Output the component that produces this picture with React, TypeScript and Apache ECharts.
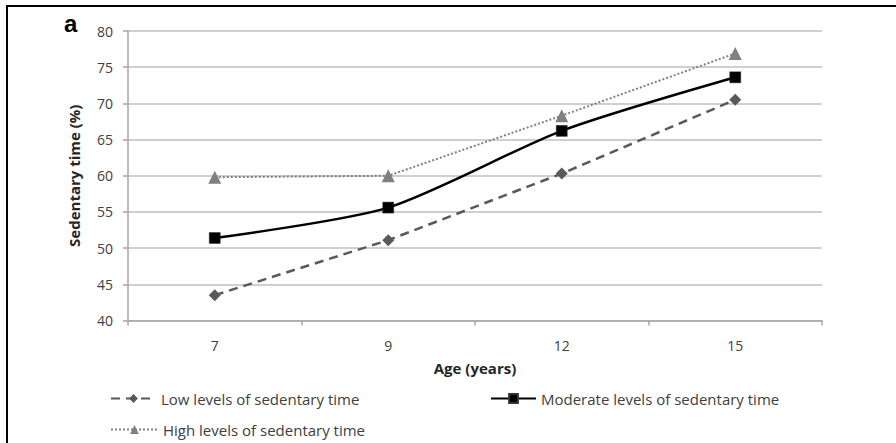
import React, { useEffect, useRef } from "react";
import * as echarts from "echarts";

const ages = ["7", "9", "12", "15"];
const lowLevels = [43.5, 51.1, 60.3, 70.5];
const moderateLevels = [51.4, 55.6, 66.2, 73.6];
const highLevels = [59.8, 60.0, 68.3, 76.9];
const seriesNames = [
  "Low levels of sedentary time",
  "Moderate levels of sedentary time",
  "High levels of sedentary time",
];

const FONT = "'Open Sans', Lato, sans-serif";
const TXT = "#404040";

export default function App() {
  const ref = useRef<HTMLDivElement>(null);
  useEffect(() => {
    if (!ref.current) return;
    const chart = echarts.init(ref.current, null, { renderer: "svg" });
    const legendText = { fontFamily: FONT, fontSize: 15, color: TXT };
    chart.setOption({
      animation: false,
      backgroundColor: "#ffffff",
      textStyle: { fontFamily: FONT },
      grid: { left: 128, top: 31, width: 694, height: 289.5 },
      xAxis: {
        type: "category",
        data: ages,
        boundaryGap: true,
        name: "Age (years)",
        nameLocation: "middle",
        nameGap: 40,
        nameTextStyle: { fontFamily: FONT, fontSize: 15, fontWeight: "bold", color: "#262626" },
        axisLine: { lineStyle: { color: "#a6a6a6", width: 1.5 } },
        axisTick: { show: true, length: 5, lineStyle: { color: "#a6a6a6", width: 1.5 } },
        axisLabel: { margin: 18, fontSize: 14, color: TXT, fontFamily: FONT },
        splitLine: { show: false },
      },
      yAxis: {
        type: "value",
        min: 40,
        max: 80,
        interval: 5,
        name: "Sedentary time (%)",
        nameLocation: "middle",
        nameGap: 47,
        nameTextStyle: { fontFamily: FONT, fontSize: 15, fontWeight: "bold", color: "#262626" },
        axisLine: { show: true, lineStyle: { color: "#a6a6a6", width: 1.5 } },
        axisTick: { show: true, length: 5, lineStyle: { color: "#a6a6a6", width: 1.5 } },
        axisLabel: { margin: 15, fontSize: 14, color: TXT, fontFamily: FONT },
        splitLine: { show: true, lineStyle: { color: "#bfbfbf", width: 1.5 } },
      },
      legend: [
        {
          data: [seriesNames[0]],
          left: 110,
          top: 391,
          padding: 0,
          itemWidth: 45,
          itemHeight: 11,
          textStyle: legendText,
        },
        {
          data: [seriesNames[1]],
          left: 490,
          top: 391,
          padding: 0,
          itemWidth: 45,
          itemHeight: 11,
          textStyle: legendText,
        },
        {
          data: [seriesNames[2]],
          left: 110,
          top: 422,
          padding: 0,
          itemWidth: 47,
          itemHeight: 11,
          textStyle: legendText,
        },
      ],
      series: [
        {
          name: seriesNames[0],
          type: "line",
          data: lowLevels,
          symbol: "diamond",
          symbolSize: 12,
          itemStyle: { color: "#595959" },
          lineStyle: { color: "#595959", width: 2.5, type: [9, 6] },
          z: 2,
        },
        {
          name: seriesNames[1],
          type: "line",
          data: moderateLevels,
          symbol: "rect",
          symbolSize: 11,
          smooth: 0.25,
          itemStyle: { color: "#000000", borderColor: "#333", borderWidth: 0.5 },
          lineStyle: { color: "#000000", width: 2.5 },
          z: 3,
        },
        {
          name: seriesNames[2],
          type: "line",
          data: highLevels,
          symbol: "triangle",
          symbolSize: 13,
          itemStyle: { color: "#808080" },
          lineStyle: { color: "#808080", width: 2, type: [2, 2] },
          z: 1,
        },
      ],
      graphic: [
        {
          type: "rect",
          shape: { x: 7, y: 6, width: 960, height: 520 },
          style: { fill: "none", stroke: "#000000", lineWidth: 2 },
          silent: true,
        },
        {
          type: "text",
          x: 64,
          y: 11,
          style: { text: "a", fontFamily: "'Liberation Sans', Arial, sans-serif", fontSize: 24, fontWeight: "bold", fill: "#000000" },
        },
      ],
    });
    return () => chart.dispose();
  }, []);
  return (
    <div
      ref={ref}
      style={{ position: "fixed", left: 0, top: 0, width: 896, height: 443 }}
    />
  );
}
